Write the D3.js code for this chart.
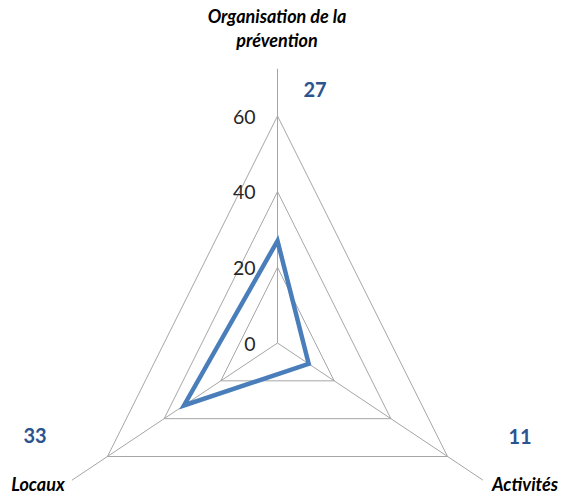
<!DOCTYPE html>
<html>
<head>
<meta charset="utf-8">
<script src="https://cdn.jsdelivr.net/npm/d3@7"></script>
<style>
  html, body { margin: 0; padding: 0; background: #fff; }
  svg { display: block; }
</style>
</head>
<body>
<svg id="chart" width="561" height="496"></svg>
<script>
// Radar data: three prevention themes
const categories = ["Organisation de la prévention", "Activités", "Locaux"];
const values = [27, 11, 33];
const ticks = [0, 20, 40, 60];

const width = 561, height = 496;
const cx = 277.5, cy = 343;
const squeeze = 0.865;           // horizontal compression of the plot
const r = d3.scaleLinear().domain([0, 60]).range([0, 227]);
const angle = d3.scaleLinear().domain([0, categories.length]).range([-Math.PI / 2, 1.5 * Math.PI]);

const pt = (i, v) => [cx + squeeze * r(v) * Math.cos(angle(i)), cy + r(v) * Math.sin(angle(i))];

const svg = d3.select("#chart");
const gridColor = "#a6a6a6";

// Spokes
svg.append("g").selectAll("line")
  .data(categories)
  .join("line")
  .attr("x1", cx).attr("y1", cy)
  .attr("x2", (d, i) => pt(i, 72.5)[0])
  .attr("y2", (d, i) => pt(i, 72.5)[1])
  .attr("stroke", gridColor).attr("stroke-width", 1);

// Rings
const ringLine = d3.line();
svg.append("g").selectAll("path")
  .data(ticks.filter(t => t > 0))
  .join("path")
  .attr("d", t => ringLine(categories.map((c, i) => pt(i, t))) + "Z")
  .attr("fill", "none").attr("stroke", gridColor).attr("stroke-width", 1);

// Tick labels along the vertical spoke
svg.append("g").selectAll("text")
  .data(ticks)
  .join("text")
  .attr("x", cx - 22)
  .attr("y", t => pt(0, t)[1] + 1)
  .attr("dy", "0.35em")
  .attr("text-anchor", "end")
  .attr("font-family", "Lato, 'Open Sans', sans-serif")
  .attr("font-size", 19.5)
  .attr("fill", "#262626")
  .text(t => t);

// Series
svg.append("path")
  .attr("d", d3.line()(values.map((v, i) => pt(i, v))) + "Z")
  .attr("fill", "none")
  .attr("stroke", "#4a7ebb")
  .attr("stroke-width", 4.5)
  .attr("stroke-linejoin", "miter");

// Category labels
const catFont = "Lato, 'Open Sans', sans-serif";
const catSize = 18;
const topLabel = svg.append("text")
  .attr("text-anchor", "middle")
  .attr("font-family", catFont)
  .attr("font-size", catSize)
  .attr("font-weight", "bold")
  .attr("font-style", "italic")
  .attr("fill", "#000");
topLabel.append("tspan").attr("x", 277).attr("y", 23).text("Organisation de la");
topLabel.append("tspan").attr("x", 277).attr("y", 47).text("prévention");

const catPos = [null, { x: 525, y: 491 }, { x: 38, y: 491 }];
svg.append("g").selectAll("text")
  .data(categories.slice(1))
  .join("text")
  .attr("x", (d, i) => catPos[i + 1].x)
  .attr("y", (d, i) => catPos[i + 1].y)
  .attr("text-anchor", "middle")
  .attr("font-family", catFont)
  .attr("font-size", catSize)
  .attr("font-weight", "bold")
  .attr("font-style", "italic")
  .attr("fill", "#000")
  .text(d => d);

// Value labels
const valPos = [{ x: 315, y: 97 }, { x: 520, y: 444 }, { x: 35, y: 443 }];
svg.append("g").selectAll("text")
  .data(values)
  .join("text")
  .attr("x", (d, i) => valPos[i].x)
  .attr("y", (d, i) => valPos[i].y)
  .attr("text-anchor", "middle")
  .attr("font-family", catFont)
  .attr("font-size", 20)
  .attr("font-weight", "bold")
  .attr("fill", "#2a5490")
  .text(d => d);
</script>
</body>
</html>
